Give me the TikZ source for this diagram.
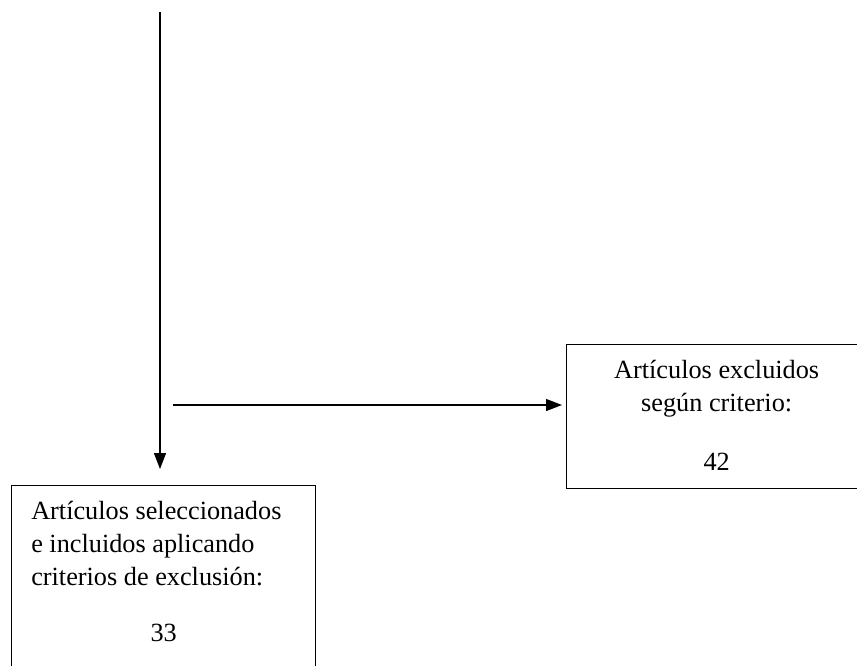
\documentclass[tikz,border=0pt]{standalone}
\usepackage{fontspec}
\setmainfont{Liberation Serif}
\usetikzlibrary{arrows.meta, positioning}

\begin{document}
\begin{tikzpicture}[x=0.75pt, y=-0.75pt,
	box/.style={draw, line width=1pt, inner sep=0pt},
	txt/.style={inner sep=0pt, font=\fontsize{19.7}{25}\selectfont},
	arr/.style={-{Triangle[length=12pt,width=9pt]}, line width=1pt}]
	\useasboundingbox (0,0) rectangle (857,665);
	\clip (0,0) rectangle (857,665);

	\draw (566,344) node[box, anchor=north west, minimum width=225pt, minimum height=108pt] (excl) {}
		(11,485) node[box, anchor=north west, minimum width=228pt, minimum height=200pt] (sel) {};

	\node[txt, align=center, below=11.6pt of excl.north] (excltxt) {Artículos excluidos\\según criterio:\\[19.6pt]42};
	\node[txt, align=left, anchor=north west] (seltxt) at ([xshift=15pt, yshift=-11.6pt]sel.north west)
		{Artículos seleccionados\\e incluidos aplicando\\criterios de exclusión:};
	\node[txt, anchor=north] (selnum) at ([yshift=-28pt]sel.north |- seltxt.south) {33};

	\coordinate (start) at (160,12);
	\coordinate (side) at (173,405);
	\draw[arr, shorten >=12pt] (start) -- (start |- sel.north);
	\draw[arr, shorten >=3pt] (side) -- (side -| excl.west);
\end{tikzpicture}
\end{document}
